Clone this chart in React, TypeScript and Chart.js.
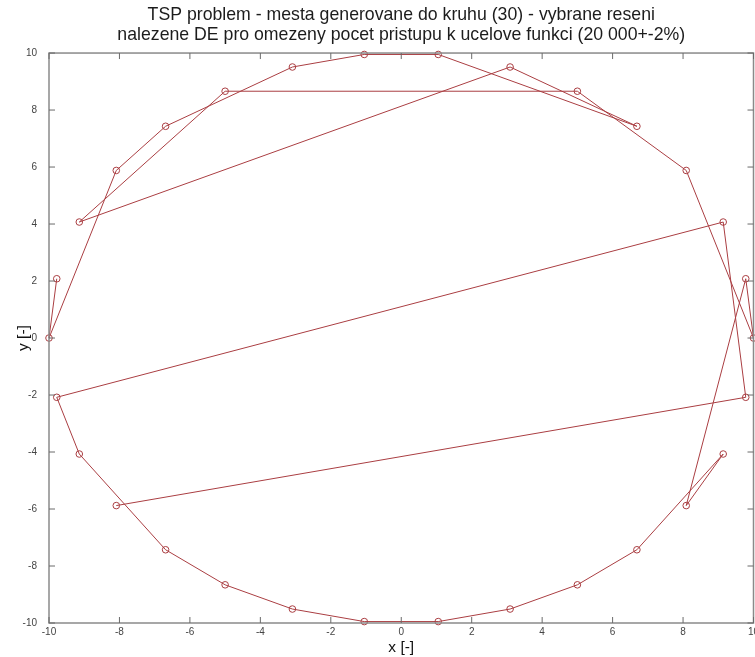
import React, { useEffect, useRef } from "react";
import { Chart, registerables } from "chart.js";

Chart.register(...registerables);

const titleLines = [
  "TSP problem - mesta generovane do kruhu (30) - vybrane reseni",
  "nalezene DE pro omezeny pocet pristupu k ucelove funkci (20 000+-2%)",
];
const xAxisLabel = "x [-]";
const yAxisLabel = "y [-]";
const axisMin = -10;
const axisMax = 10;
const tickStep = 2;

// route of the selected solution (open path, in visiting order)
const routeX = [
  -9.78, -10, -8.09, -6.69, -3.09, -1.05, 1.05, 6.69, 3.09, -9.14,
  -5, 5, 8.09, 10, 9.78, 8.09, 9.14, 6.69, 5, 3.09,
  1.05, -1.05, -3.09, -5, -6.69, -9.14, -9.78, 9.14, 9.78, -8.09,
];
const routeY = [
  2.08, 0, 5.88, 7.43, 9.51, 9.95, 9.95, 7.43, 9.51, 4.07,
  8.66, 8.66, 5.88, 0, 2.08, -5.88, -4.07, -7.43, -8.66, -9.51,
  -9.95, -9.95, -9.51, -8.66, -7.43, -4.07, -2.08, 4.07, -2.08, -5.88,
];

const FONT = "'Liberation Sans', Arial, Helvetica, sans-serif";
const LINE_COLOR = "rgb(170, 62, 66)";
const TICK_COLOR = "#444";

const framePlugin = {
  id: "matlabFrame",
  afterDatasetsDraw(chart: any) {
    const { ctx, chartArea: a, scales } = chart;
    ctx.save();
    ctx.strokeStyle = "#8a8a8a";
    ctx.lineWidth = 1.5;
    ctx.strokeRect(a.left, a.top, a.right - a.left, a.bottom - a.top);
    ctx.lineWidth = 1;
    ctx.strokeStyle = "#6a6a6a";
    const L = 6;
    const seg = (x1: number, y1: number, x2: number, y2: number) => {
      ctx.beginPath();
      ctx.moveTo(x1, y1);
      ctx.lineTo(x2, y2);
      ctx.stroke();
    };
    ctx.fillStyle = TICK_COLOR;
    ctx.font = `10px ${FONT}`;
    ctx.textAlign = "center";
    ctx.textBaseline = "top";
    scales.x.ticks.forEach((t: any) => {
      const px = scales.x.getPixelForValue(t.value);
      seg(px, a.bottom, px, a.bottom - L);
      seg(px, a.top, px, a.top + L);
      ctx.fillText(String(t.value), px, a.bottom + 4);
    });
    scales.y.ticks.forEach((t: any) => {
      const py = scales.y.getPixelForValue(t.value);
      seg(a.left, py, a.left + L, py);
      seg(a.right, py, a.right - L, py);
    });
    ctx.restore();
  },
};

export default function App() {
  const ref = useRef<HTMLCanvasElement>(null);

  useEffect(() => {
    document.body.style.margin = "0";
    const canvas = ref.current;
    if (!canvas) return;
    const chart = new Chart(canvas, {
      type: "scatter",
      data: {
        datasets: [
          {
            data: routeX.map((x, i) => ({ x, y: routeY[i] })),
            showLine: true,
            borderColor: LINE_COLOR,
            borderWidth: 1,
            pointRadius: 3.3,
            pointBorderWidth: 1,
            pointBorderColor: LINE_COLOR,
            pointBackgroundColor: "rgba(0,0,0,0)",
            clip: false,
            tension: 0,
          } as any,
        ],
      },
      options: {
        animation: false,
        responsive: false,
        layout: { autoPadding: false, padding: { left: 0, right: 1.5, top: 0, bottom: 0 } },
        plugins: {
          legend: { display: false },
          tooltip: { enabled: false },
          title: {
            display: true,
            fullSize: false,
            text: titleLines,
            color: "#1c1c1c",
            font: { family: FONT, size: 17.7, weight: "normal", lineHeight: 1.1 },
            padding: { top: 5.5, bottom: 8.6 },
          },
        },
        scales: {
          x: {
            type: "linear",
            min: axisMin,
            max: axisMax,
            grid: { display: false },
            border: { display: false },
            ticks: {
              display: false,
              stepSize: tickStep,
              autoSkip: false,
              maxRotation: 0,
            },
            title: {
              display: true,
              text: xAxisLabel,
              color: "#111",
              font: { family: FONT, size: 15.5 },
              padding: { top: 0, bottom: 0 },
            },
            afterFit: (s: any) => {
              s.height = 34;
              s.paddingLeft = 0;
              s.paddingRight = 0;
            },
          },
          y: {
            type: "linear",
            min: axisMin,
            max: axisMax,
            grid: { display: false },
            border: { display: false },
            ticks: {
              stepSize: tickStep,
              autoSkip: false,
              color: TICK_COLOR,
              padding: 4,
              font: { family: FONT, size: 10 },
            },
            title: {
              display: true,
              text: yAxisLabel,
              color: "#111",
              font: { family: FONT, size: 15.5 },
              padding: { top: 14, bottom: 0 },
            },
            afterFit: (s: any) => {
              s.width = 49;
              s.paddingTop = 0;
              s.paddingBottom = 0;
            },
          },
        },
      } as any,
      plugins: [framePlugin],
    });
    return () => chart.destroy();
  }, []);

  return (
    <div style={{ width: 755, height: 657, background: "#fff" }}>
      <canvas ref={ref} width={755} height={657} style={{ display: "block" }} />
    </div>
  );
}
